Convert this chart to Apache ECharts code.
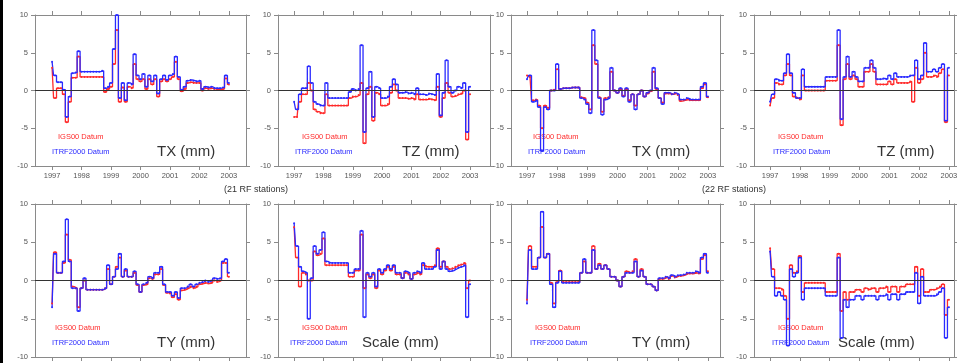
<!DOCTYPE html>
<html>
<head>
<meta charset="utf-8">
<script src="https://cdn.jsdelivr.net/npm/echarts@6/dist/echarts.min.js"></script>
<style>
  html, body { margin: 0; padding: 0; background: #fff; }
  #chart { width: 957px; height: 363px; }
</style>
</head>
<body>
<div id="chart"></div>
<script>
// sample times (decimal years), shared by every panel
const years = [
  1997.0, 1997.1, 1997.2, 1997.3, 1997.4, 1997.5, 1997.6, 1997.7, 1997.8, 1997.9,
  1998.0, 1998.1, 1998.2, 1998.3, 1998.4, 1998.5, 1998.6, 1998.7, 1998.8, 1998.9,
  1999.0, 1999.1, 1999.2, 1999.3, 1999.4, 1999.5, 1999.6, 1999.7, 1999.8, 1999.9,
  2000.0, 2000.1, 2000.2, 2000.3, 2000.4, 2000.5, 2000.6, 2000.7, 2000.8, 2000.9,
  2001.0, 2001.1, 2001.2, 2001.3, 2001.4, 2001.5, 2001.6, 2001.7, 2001.8, 2001.9,
  2002.0, 2002.1, 2002.2, 2002.3, 2002.4, 2002.5, 2002.6, 2002.7, 2002.8, 2002.9,
  2003.0
];
const yearTicks = [1997, 1998, 1999, 2000, 2001, 2002, 2003];
const valueTicks = [-10, -5, 0, 5, 10];

// 21 RF stations
const txRed21 = [3.0, -1.0, 0.3, 0.3, -0.5, -4.2, -1.5, 1.7, 1.7, 4.5,
  1.8, 1.8, 1.8, 1.8, 1.8, 1.8, 1.8, 1.8, -0.2, 0.2,
  0.5, 3.5, 8.0, -1.5, 0.4, -1.5, 0.5, 0.3, 3.5, 1.5,
  1.2, 1.5, 0.2, 1.5, 0.8, 1.5, -0.8, 1.2, 1.5, 1.2,
  1.5, 1.8, 3.8, 1.5, -0.1, 0.2, 1.0, 1.1, 1.0, 1.0,
  1.0, 0.0, 0.3, 0.2, 0.3, 0.2, 0.1, 0.1, 0.2, 1.6, 0.8];
const txBlue21 = [3.8, 2.0, 1.1, 1.1, 0.1, -3.5, -0.8, 2.3, 2.4, 5.2,
  2.5, 2.5, 2.5, 2.5, 2.5, 2.5, 2.5, 2.6, 0.3, 0.5,
  1.0, 5.5, 10.0, -1.0, 1.0, -1.3, 1.0, 0.8, 4.8, 2.0,
  1.5, 2.2, 0.5, 2.0, 1.2, 2.0, -0.4, 1.5, 2.0, 1.4,
  2.0, 2.2, 4.5, 1.8, 0.1, 0.5, 1.3, 1.4, 1.3, 1.2,
  1.3, 0.2, 0.5, 0.4, 0.5, 0.3, 0.3, 0.3, 0.4, 2.0, 1.0];
const tzRed21 = [-3.5, -3.5, -1.5, -0.5, -0.5, 1.0, 0.0, -2.5, -2.8, -3.0,
  -3.0, -0.5, -2.0, -2.0, -2.0, -2.0, -2.0, -2.0, -2.0, -1.0,
  -0.8, -0.8, -0.6, 1.0, -7.0, -0.5, 0.5, -4.0, -0.3, -0.5,
  -2.0, -2.0, -1.8, -0.3, 0.8, 0.0, -1.0, -1.0, -1.0, -1.1,
  -1.0, -1.2, -0.5, -1.2, -1.2, -1.2, -1.1, -1.2, -1.3, 0.5,
  -3.5, -1.0, 1.0, -0.3, -0.8, -0.7, -0.5, -0.4, 0.0, -6.5, -0.5];
const tzBlue21 = [-1.5, -2.5, -0.5, 0.3, 0.3, 3.2, 1.0, -1.5, -1.8, -2.0,
  -2.0, 1.0, -1.0, -1.0, -1.0, -1.0, -1.0, -1.0, -1.0, -0.2,
  0.2, 0.0, 0.2, 6.0, -5.5, 0.3, 2.5, -3.5, 0.5, 0.3,
  -1.0, -1.0, -0.8, 0.5, 1.5, 0.8, -0.3, -0.3, -0.2, -0.4,
  -0.3, -0.5, 0.3, -0.5, -0.5, -0.6, -0.4, -0.5, -0.6, 2.2,
  -3.3, -0.3, 4.0, 0.5, -0.3, 0.0, 0.5, 0.3, 1.0, -5.5, 0.5];
const tyRed21 = [-3.0, 3.7, 1.0, 1.0, 2.3, 6.0, 2.7, -0.8, -1.0, -3.5,
  -1.0, 0.0, -1.2, -1.2, -1.2, -1.2, -1.2, -1.2, -1.0, 1.5,
  -0.5, 0.5, 1.8, 3.0, 0.5, 1.3, 0.5, 0.5, 1.0, -0.6,
  -1.5, -0.6, -0.5, 0.3, 0.2, 0.8, 0.8, 1.5, -0.6, -1.6,
  -1.7, -2.2, -1.8, -2.5, -1.3, -1.2, -1.0, -0.8, -1.0, -0.8,
  -0.5, -0.4, -0.3, -0.4, -0.3, 0.0, -0.2, 0.0, 2.3, 2.3, 0.5];
const tyBlue21 = [-3.5, 3.5, 1.0, 1.0, 2.5, 8.0, 2.5, -1.0, -1.0, -4.0,
  -1.0, 0.3, -1.2, -1.2, -1.2, -1.2, -1.2, -1.2, -1.0, 2.0,
  -0.5, 0.5, 1.5, 3.5, 0.5, 1.5, 0.5, 0.5, 1.2, -0.5,
  -1.5, -0.5, -0.3, 0.5, 0.3, 1.0, 1.0, 1.8, -0.5, -1.5,
  -1.5, -2.0, -1.5, -2.3, -1.0, -1.0, -0.8, -0.5, -0.8, -0.5,
  -0.3, -0.2, 0.0, -0.2, 0.0, 0.3, 0.2, 0.3, 2.5, 2.8, 1.0];
const scaleRed21 = [7.0, 3.0, -0.8, 1.0, 0.8, 0.0, 0.0, 3.8, 3.3, 3.5,
  5.5, 2.0, 2.0, 2.0, 2.0, 2.0, 2.0, 2.0, 2.0, 0.5,
  0.5, 1.3, 1.3, 6.0, -1.0, 0.8, 0.3, 0.8, -1.0, 1.3,
  0.8, 1.3, 1.8, 1.3, 1.8, 0.8, 0.8, 0.3, 1.0, 0.8,
  0.2, 0.8, 1.0, 0.8, 2.0, 1.8, 1.8, 1.8, 2.0, 4.2,
  1.8, 2.5, 1.8, 1.5, 1.6, 1.8, 2.0, 2.1, 2.3, -1.0, 0.0];
const scaleBlue21 = [7.5, 4.5, 1.8, 1.2, 1.0, -5.0, 0.3, 4.5, 3.5, 4.0,
  6.3, 2.5, 2.3, 2.3, 2.3, 2.3, 2.3, 2.3, 2.3, 1.0,
  1.0, 1.5, 1.5, 6.5, -4.8, 1.0, 0.5, 1.0, -0.8, 1.5,
  1.0, 1.5, 2.0, 1.5, 2.0, 1.0, 1.0, 0.3, 1.2, 1.0,
  0.2, 1.0, 1.2, 1.0, 2.3, 1.5, 1.5, 1.5, 1.8, 4.0,
  1.5, 2.5, 1.5, 1.2, 1.3, 1.5, 1.7, 1.8, 2.0, -4.8, -0.5];

// 22 RF stations
const txRed22 = [2.0, 1.8, -1.3, -1.2, -2.0, -5.0, -2.0, -2.3, 0.0, 0.1,
  2.8, 0.2, 0.3, 0.3, 0.3, 0.4, 0.4, 0.4, -0.9, -1.0,
  -1.6, -2.5, 6.0, 3.5, -0.9, -2.8, -1.0, -0.9, 2.5, 0.0,
  -0.3, 0.2, -0.7, 0.2, -1.3, -0.5, -2.0, -0.5, 0.0, -0.8,
  -0.4, -0.1, 2.5, 0.2, -1.0, -1.6, -0.4, -0.4, -0.5, -0.4,
  -0.6, -1.4, -1.3, -1.2, -1.3, -1.3, -1.3, -1.3, 0.3, 0.8, -0.9];
const txBlue22 = [1.5, 2.0, -1.5, -1.3, -2.2, -8.0, -2.2, -2.5, 0.0, 0.0,
  3.5, 0.2, 0.3, 0.3, 0.3, 0.4, 0.4, 0.4, -1.0, -1.2,
  -1.8, -3.0, 8.0, 4.0, -1.0, -3.2, -1.2, -1.0, 3.0, 0.0,
  -0.3, 0.3, -0.8, 0.3, -1.5, -0.5, -2.5, -0.5, 0.0, -0.8,
  -0.3, 0.0, 3.0, 0.3, -1.0, -1.8, -0.3, -0.3, -0.5, -0.3,
  -0.5, -1.2, -1.2, -1.0, -1.2, -1.2, -1.2, -1.2, 0.5, 1.0, -0.8];
const tzRed22 = [-2.0, -1.0, 1.0, 0.8, 0.8, 2.0, 3.5, 2.0, -0.8, -1.0,
  -1.2, 2.0, 0.0, 0.0, 0.0, 0.0, 0.0, 0.0, 0.0, 1.3,
  1.3, 1.3, 1.3, 6.0, -4.6, 1.5, 3.5, 1.5, 2.0, 1.5,
  0.5, 0.5, 2.5, 2.5, 3.5, 2.5, 0.8, 0.8, 0.8, 0.8,
  1.2, 0.8, 1.5, 1.0, 1.0, 1.0, 1.0, 1.2, -1.5, 3.0,
  1.0, 1.5, 5.0, 1.8, 1.8, 2.0, 1.8, 2.3, 2.8, -4.2, 2.0];
const tzBlue22 = [-1.5, -0.5, 1.5, 1.3, 1.3, 2.3, 4.8, 2.3, -0.3, -1.0,
  -1.0, 2.8, 0.5, 0.5, 0.5, 0.5, 0.5, 0.5, 0.5, 1.8,
  1.8, 1.8, 1.8, 8.0, -3.8, 1.8, 4.5, 1.8, 2.5, 1.8,
  1.2, 1.2, 3.0, 3.0, 4.0, 3.0, 1.5, 1.5, 1.6, 1.5,
  2.0, 1.5, 2.3, 1.8, 1.8, 1.8, 1.8, 2.0, 2.0, 4.0,
  1.5, 2.0, 6.3, 2.5, 2.5, 2.8, 2.5, 3.0, 3.5, -4.0, 3.0];
const tyRed22 = [-2.5, 4.5, 1.8, 1.8, 3.0, 7.0, 3.0, 3.5, -0.3, -3.0,
  -0.2, 1.3, -0.2, -0.2, -0.2, -0.2, -0.2, -0.2, 1.0, 2.5,
  1.0, 1.0, 4.5, 1.5, 2.2, 1.5, 2.0, 1.5, 0.5, 0.5,
  0.0, -0.8, 0.5, 1.2, 1.0, 1.2, 2.8, 0.5, 1.5, 0.5,
  -0.5, -0.5, -0.8, -1.3, 0.2, 0.2, 0.4, 0.2, 0.6, 0.4,
  0.6, 0.6, 0.7, 0.9, 0.9, 0.9, 1.0, 0.9, 2.8, 3.3, 1.2];
const tyBlue22 = [-3.0, 4.0, 1.5, 1.5, 3.0, 9.0, 3.0, 3.5, -0.5, -3.5,
  -0.3, 1.2, -0.3, -0.3, -0.3, -0.3, -0.3, -0.3, 1.0, 2.8,
  1.0, 1.0, 4.0, 1.5, 2.0, 1.5, 2.0, 1.5, 0.5, 0.5,
  0.0, -0.8, 0.5, 1.0, 1.0, 1.0, 2.5, 0.5, 1.3, 0.5,
  -0.5, -0.5, -0.8, -1.3, 0.3, 0.3, 0.5, 0.3, 0.7, 0.5,
  0.7, 0.7, 0.8, 1.0, 1.0, 1.0, 1.2, 1.0, 3.0, 3.5, 1.0];
const scaleRed22 = [4.2, 1.5, -1.0, -1.0, -1.2, -2.0, -5.0, 2.0, 1.0, 1.2,
  3.2, -1.5, -0.3, -0.3, -0.3, -0.3, -0.3, -0.3, -0.3, -1.5,
  -1.5, -1.5, -1.5, 3.5, -4.0, -1.5, -2.5, -1.5, -1.5, -1.2,
  -1.2, -1.5, -1.0, -1.2, -1.0, -1.0, -1.5, -1.0, -1.0, -0.8,
  -1.5, -0.8, -0.8, -1.5, -0.8, -0.8, -0.5, -0.5, -0.5, 1.8,
  -2.0, 1.5, -1.5, -1.5, -1.2, -1.2, -1.0, -0.8, -0.5, -4.5, -2.5];
const scaleBlue22 = [3.8, 0.5, -2.0, -1.5, -2.0, -2.5, -8.5, 1.5, 0.5, 1.0,
  3.0, -2.5, -1.0, -1.0, -1.0, -1.0, -1.0, -1.0, -1.0, -2.0,
  -2.0, -2.0, -2.0, 3.0, -7.5, -2.5, -3.5, -2.5, -2.5, -2.0,
  -2.0, -2.5, -2.0, -2.0, -2.0, -2.0, -2.5, -2.0, -2.0, -1.8,
  -2.5, -1.8, -1.8, -2.5, -1.8, -1.8, -1.5, -1.5, -1.5, 1.0,
  -3.0, 0.5, -2.0, -2.0, -2.0, -2.0, -1.8, -1.5, -1.0, -7.5, -3.5];

const panels = [
  { red: txRed21, blue: txBlue21, name: 'TX (mm)', left: 35, width: 211, top: 15, height: 151, xMin: 1996.42, xMax: 2003.58, redX: 58, blueX: 52, nameX: 157 },
  { red: tzRed21, blue: tzBlue21, name: 'TZ (mm)', left: 278, width: 212, top: 15, height: 151, xMin: 1996.45, xMax: 2003.68, redX: 302, blueX: 295, nameX: 402 },
  { red: txRed22, blue: txBlue22, name: 'TX (mm)', left: 511, width: 209, top: 15, height: 151, xMin: 1996.47, xMax: 2003.40, redX: 533, blueX: 528, nameX: 632 },
  { red: tzRed22, blue: tzBlue22, name: 'TZ (mm)', left: 754, width: 200, top: 15, height: 151, xMin: 1996.46, xMax: 2003.17, redX: 778, blueX: 773, nameX: 877 },
  { red: tyRed21, blue: tyBlue21, name: 'TY (mm)', left: 35, width: 211, top: 204, height: 153, xMin: 1996.42, xMax: 2003.58, redX: 55, blueX: 52, nameX: 157 },
  { red: scaleRed21, blue: scaleBlue21, name: 'Scale (mm)', left: 278, width: 212, top: 204, height: 153, xMin: 1996.45, xMax: 2003.68, redX: 302, blueX: 290, nameX: 362 },
  { red: tyRed22, blue: tyBlue22, name: 'TY (mm)', left: 511, width: 209, top: 204, height: 153, xMin: 1996.47, xMax: 2003.40, redX: 535, blueX: 530, nameX: 632 },
  { red: scaleRed22, blue: scaleBlue22, name: 'Scale (mm)', left: 754, width: 200, top: 204, height: 153, xMin: 1996.46, xMax: 2003.17, redX: 778, blueX: 772, nameX: 838 }
];

const FONT = '"Liberation Sans", Arial, sans-serif';
const frameColor = '#8a8a8a';
const redColor = '#ff2a2a';
const blueColor = '#2a2aff';

const grid = [];
const xAxis = [];
const yAxis = [];
const series = [];
const graphic = [
  { type: 'rect', shape: { x: 0, y: 0, width: 3, height: 363 }, style: { fill: '#000' } },
  { type: 'text', style: { text: '(21 RF stations)', x: 256, y: 190, textAlign: 'center', textVerticalAlign: 'middle', font: '9px ' + FONT, fill: '#333' } },
  { type: 'text', style: { text: '(22 RF stations)', x: 734, y: 190, textAlign: 'center', textVerticalAlign: 'middle', font: '9px ' + FONT, fill: '#333' } }
];

panels.forEach((p, k) => {
  // outerBoundsMode none: keep the exact box even when the labels spill past the page edge
  grid.push({ left: p.left, top: p.top, width: p.width, height: p.height, containLabel: false, outerBoundsMode: 'none' });

  const xBase = {
    type: 'value',
    gridIndex: k,
    min: p.xMin,
    max: p.xMax,
    axisLine: { show: true, onZero: false, lineStyle: { color: frameColor, width: 1 } },
    axisTick: { show: true, length: 4, customValues: yearTicks, lineStyle: { color: frameColor } },
    splitLine: { show: false }
  };
  xAxis.push(Object.assign({}, xBase, {
    position: 'bottom',
    axisLabel: { customValues: yearTicks, formatter: v => String(Math.round(v)), fontSize: 7.5, color: '#555', margin: 6, fontFamily: FONT }
  }));
  xAxis.push(Object.assign({}, xBase, { position: 'top', axisLabel: { show: false } }));

  const yBase = {
    type: 'value',
    gridIndex: k,
    min: valueTicks[0],
    max: valueTicks[valueTicks.length - 1],
    interval: 5,
    axisLine: { show: true, onZero: false, lineStyle: { color: frameColor, width: 1 } },
    axisTick: { show: true, length: 4, lineStyle: { color: frameColor } },
    splitLine: { show: false }
  };
  yAxis.push(Object.assign({}, yBase, {
    position: 'left',
    axisLabel: { fontSize: 7.5, color: '#555', margin: 7, fontFamily: FONT }
  }));
  yAxis.push(Object.assign({}, yBase, { position: 'right', axisLabel: { show: false } }));

  const lineSeries = (vals, color) => ({
    type: 'line',
    xAxisIndex: 2 * k,
    yAxisIndex: 2 * k,
    data: years.map((t, i) => [t, vals[i]]),
    step: 'middle',
    symbol: 'circle',
    symbolSize: 2,
    itemStyle: { color: color },
    lineStyle: { color: color, width: 1.3 },
    animation: false,
    silent: true
  });

  const red = lineSeries(p.red, redColor);
  red.markLine = {
    silent: true,
    symbol: 'none',
    label: { show: false },
    lineStyle: { color: '#333', width: 1, type: 'solid' },
    data: [{ yAxis: 0 }]
  };
  series.push(red);
  series.push(lineSeries(p.blue, blueColor));

  const labelY = p.top + p.height;
  graphic.push({ type: 'text', style: { text: 'IGS00 Datum', x: p.redX, y: labelY - 29, textVerticalAlign: 'middle', font: '7.5px ' + FONT, fill: redColor } });
  graphic.push({ type: 'text', style: { text: 'ITRF2000 Datum', x: p.blueX, y: labelY - 14, textVerticalAlign: 'middle', font: '7.5px ' + FONT, fill: blueColor } });
  graphic.push({ type: 'text', style: { text: p.name, x: p.nameX, y: labelY - 14, textVerticalAlign: 'middle', font: '15px ' + FONT, fill: '#333' } });
});

const chart = echarts.init(document.getElementById('chart'), null, { renderer: 'canvas' });
chart.setOption({
  backgroundColor: '#fff',
  animation: false,
  grid: grid,
  xAxis: xAxis,
  yAxis: yAxis,
  series: series,
  graphic: graphic
});
window.addEventListener('resize', () => chart.resize());
</script>
</body>
</html>
